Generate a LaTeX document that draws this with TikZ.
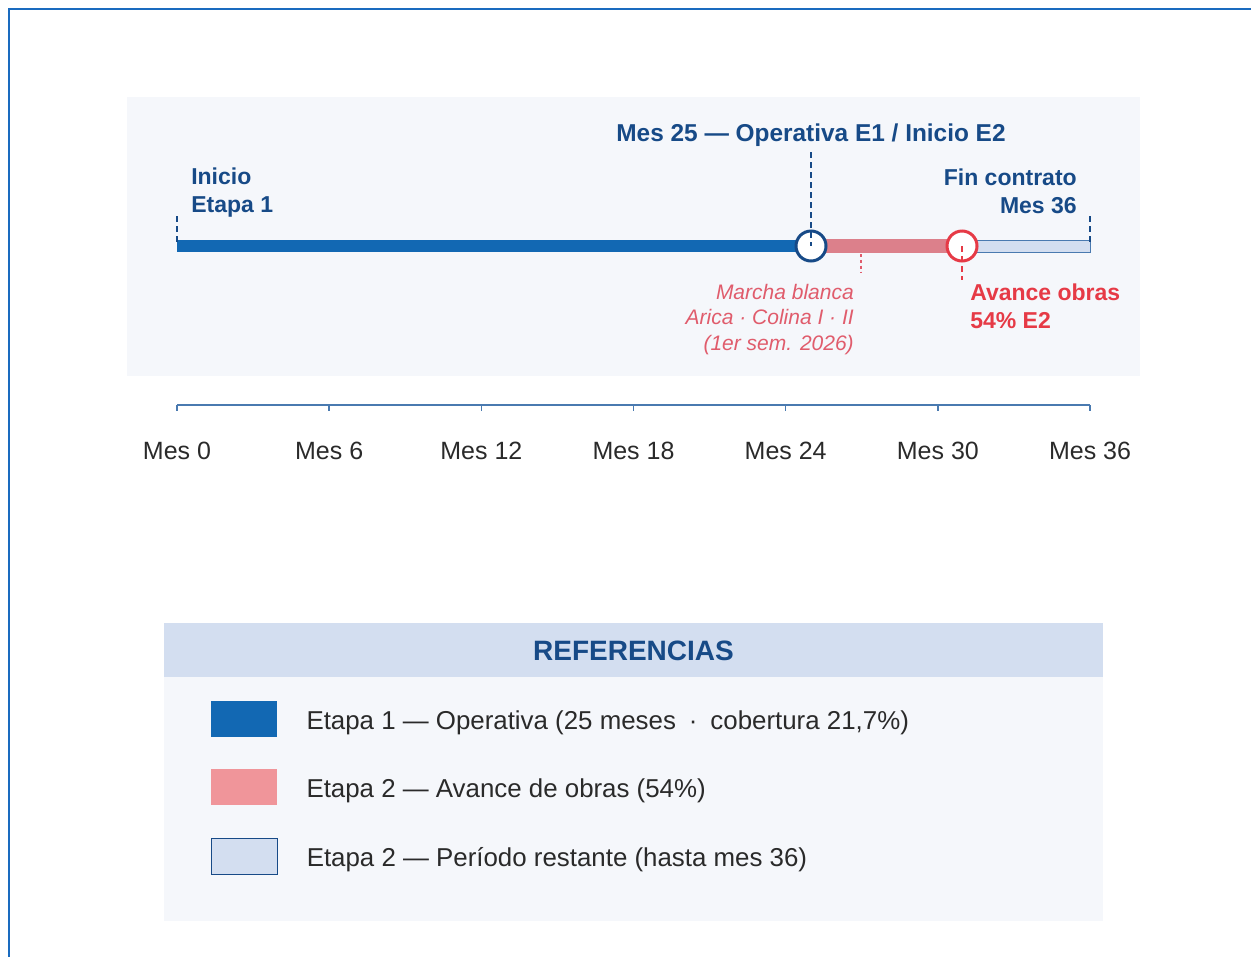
\documentclass[tikz,border=0pt]{standalone}
\usepackage{fontspec}
\setmainfont{Liberation Sans}
\usepackage{tikz}
\usetikzlibrary{positioning}
\definecolor{navy}{HTML}{174A87}
\definecolor{barblue}{HTML}{1268B3}
\definecolor{barred}{HTML}{DC808B}
\definecolor{swatchred}{HTML}{F0959A}
\definecolor{accent}{HTML}{E63A46}
\definecolor{softred}{HTML}{E05C6C}
\definecolor{paleblue}{HTML}{D3DEF0}
\definecolor{panel}{HTML}{F5F7FB}
\definecolor{axisblue}{HTML}{4A7AB0}
\definecolor{frameblue}{HTML}{1A6BBF}
\definecolor{txtgray}{HTML}{2A2A2A}
\tikzstyle{hitolabel} = [font=\fontsize{17.25}{21}\selectfont\bfseries, text=navy, inner sep=0pt]
\tikzstyle{alerta} = [font=\fontsize{17.25}{21}\selectfont\bfseries, text=accent, inner sep=0pt, align=left]
\tikzstyle{nota} = [font=\fontsize{15.75}{19.1}\selectfont\itshape, text=softred, inner sep=0pt, align=right]
\tikzstyle{mes} = [font=\fontsize{18.75}{22}\selectfont, text=txtgray, inner sep=0pt]
\tikzstyle{hito} = [circle, minimum size=22.5pt, fill=white, line width=2.25pt, inner sep=0pt]
\tikzstyle{guia} = [navy, line width=1.1pt, dash pattern=on 4.5pt off 3pt]
\tikzstyle{swatch} = [rectangle, minimum width=49.5pt, minimum height=27pt, inner sep=0pt]
\tikzstyle{reftext} = [font=\fontsize{19.4}{23}\selectfont, text=txtgray, inner sep=0pt, yshift=-2.5pt]

\begin{document}
\begin{tikzpicture}[x=0.75pt, y=-0.75pt, node distance=21.75pt]
    \useasboundingbox (0,0) rectangle (1251,957);
    \draw [frameblue, line width=1.5pt] (1251,9) -- (9,9) -- (9,957);
    \fill [panel] (127,97) rectangle (1140,376);
    \coordinate (m0) at (177,246);
    \coordinate (m25) at (811,246);
    \coordinate (m31) at (962,246);
    \coordinate (m36) at (1090,246);
    \coordinate (ini) at (177,216);
    \coordinate (fin) at (1090,216);
    \coordinate (mb) at (861,254);
    \coordinate (mbend) at (861,272);
    \coordinate (avend) at (962,280);
    \fill [barred] ([yshift=-4.9pt]m25) rectangle ([yshift=4.9pt]m31);
    \filldraw [fill=paleblue, draw=axisblue, line width=0.6pt] ([yshift=-4.5pt]m31) rectangle ([yshift=4.5pt]m36);
    \draw [barblue, line width=9pt] (m0) -- (m25);
    \draw [guia] (ini) -- (m0);
    \draw [guia] (fin) -- (m36);
    \node (titulo) [hitolabel, font=\fontsize{18.3}{21}\selectfont\bfseries, anchor=base] at (811,141) {Mes 25 — Operativa E1 / Inicio E2};
    \node (inicio) [hitolabel, align=left, anchor=north west] at (191,168) {Inicio\\Etapa 1};
    \node (fincontrato) [hitolabel, align=right, anchor=north east] at (1077,169) {Fin contrato\\Mes 36};
    \node (h25) [hito, draw=navy] at (m25) {};
    \node (h31) [hito, draw=accent] at (m31) {};
    \draw [guia] ([yshift=-4.5pt]titulo.south) -- (h25.center);
    \draw [accent, line width=1.1pt, dash pattern=on 4.5pt off 3pt] (h31.center) -- (avend);
    \draw [softred, line width=1.1pt, dash pattern=on 2.2pt off 2.2pt] (mb) -- (mbend);
    \node (marcha) [nota, anchor=north east] at (854,284) {Marcha blanca\\Arica · Colina I · II\\(1er sem. 2026)};
    \node (avance) [alerta, anchor=north west] at (970,284) {Avance obras\\54\% E2};
    \draw [axisblue, line width=1.1pt] (177,405) -- (1090,405);
    \foreach \m [evaluate=\m as \xm using 177+25.3611*\m] in {0,6,...,36} {
        \draw [axisblue, line width=1.1pt] (\xm,405) -- (\xm,411);
        \node [mes, anchor=base] at (\xm,459) {Mes \m};
    }
    \fill [paleblue] (164,623) rectangle (1103,677);
    \fill [panel] (164,677) rectangle (1103,921);
    \node (refs) [font=\fontsize{21}{25}\selectfont\bfseries, text=navy, anchor=base, inner sep=0pt] at (633.5,660) {REFERENCIAS};
    \node (sw1) [swatch, fill=barblue] at (244,719) {};
    \node (sw2) [swatch, fill=swatchred] at (244,787) {};
    \node (sw3) [swatch, fill=paleblue, draw=navy, line width=0.75pt] at (244,856) {};
    \node (t1) [reftext, right=of sw1] {Etapa 1 — Operativa (25 meses\enspace·\enspace cobertura 21,7\%)};
    \node (t2) [reftext, right=of sw2] {Etapa 2 — Avance de obras (54\%)};
    \node (t3) [reftext, right=of sw3] {Etapa 2 — Período restante (hasta mes 36)};
\end{tikzpicture}
\end{document}
